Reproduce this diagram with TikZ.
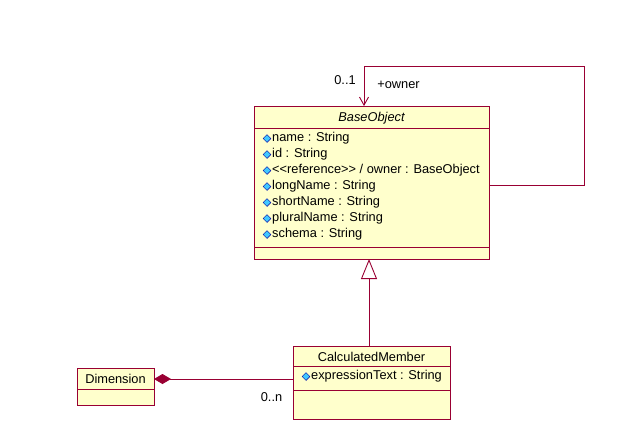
\documentclass[tikz,border=0pt]{standalone}
\usepackage{fontspec}
\setmainfont{Liberation Sans}
\usetikzlibrary{arrows.meta}
\definecolor{umlline}{RGB}{153,0,51}
\definecolor{umlfill}{RGB}{255,255,204}
\definecolor{icofill}{RGB}{64,200,255}
\definecolor{icoline}{RGB}{0,0,160}
\tikzset{
  classbox/.style={draw=umlline, fill=umlfill, line width=1pt, inner sep=0pt},
  txt/.style={inner sep=0pt, font=\fontsize{12.8}{15}\selectfont},
  attr/.style={txt, anchor=west},
  conn/.style={draw=umlline, line width=0.9pt},
  ico/.style={draw=icoline, fill=icofill, line width=0.5pt, minimum size=5.5pt, inner sep=0pt, rotate=45, shape=rectangle}
}
\newcommand{\attrline}[3]{%
  \node[ico] (#1i) at (#2) {};
  \node[attr] (#1) at ([xshift=5pt]#1i.center) {#3};
}
\begin{document}
\begin{tikzpicture}[x=1pt,y=-1pt]
\useasboundingbox (0,0) rectangle (639,440);
% BaseObject
\draw[classbox] (254,106) rectangle (489,259);
\node[inner sep=0pt, minimum width=235pt, minimum height=153pt, anchor=north west] (bo) at (254,106) {};
\draw[umlline, line width=1pt] (254,128) -- (489,128);
\draw[umlline, line width=1pt] (254,247) -- (489,247);
\node[txt, font=\fontsize{12.8}{15}\selectfont\itshape] (botitle) at (371.5,118) {BaseObject};
\attrline{a1}{267,138.5}{name : String}
\attrline{a2}{267,154.5}{id : String}
\attrline{a3}{267,170.5}{<{}<reference>{}> / owner : BaseObject}
\attrline{a4}{267,186.5}{longName : String}
\attrline{a5}{267,202.5}{shortName : String}
\attrline{a6}{267,218.5}{pluralName : String}
\attrline{a7}{267,234.5}{schema : String}
% CalculatedMember
\draw[classbox] (293,346) rectangle (450,419);
\node[inner sep=0pt, minimum width=157pt, minimum height=73pt, anchor=north west] (cm) at (293,346) {};
\draw[umlline, line width=1pt] (293,366) -- (450,366);
\draw[umlline, line width=1pt] (293,390) -- (450,390);
\node[txt] (cmtitle) at (371.5,356.5) {CalculatedMember};
\attrline{c1}{306,376.5}{expressionText : String}
% Dimension
\draw[classbox] (77,368) rectangle (154,405);
\node[inner sep=0pt, minimum width=77pt, minimum height=37pt, anchor=north west] (dim) at (77,368) {};
\draw[umlline, line width=1pt] (77,389) -- (154,389);
\node[txt] (dimtitle) at (115.5,379) {Dimension};
% self association
\coordinate (s1) at (489,185);
\coordinate (s2) at (584,185);
\coordinate (s3) at (584,66);
\coordinate (s4) at (364,66);
\coordinate (s5) at (364,106);
\draw[conn, -{Straight Barb[length=8pt,width=9pt]}] (s1) -- (s2) -- (s3) -- (s4) -- (s5);
\node[txt] (m01) at (345,80) {0..1};
\node[txt] (rown) at (398.5,85) {+owner};
% generalization
\coordinate (g1) at (369,346);
\coordinate (g2) at (369,259);
\draw[conn, -{Triangle[open,length=20pt,width=16pt,fill=white]}] (g1) -- (g2);
% composition
\coordinate (d1) at (154,379);
\coordinate (d2) at (293,379);
\draw[conn, {Diamond[length=17pt,width=10pt,fill=umlline]}-] (d1) -- (d2);
\node[txt] (m0n) at (271.5,397) {0..n};
\end{tikzpicture}
\end{document}
